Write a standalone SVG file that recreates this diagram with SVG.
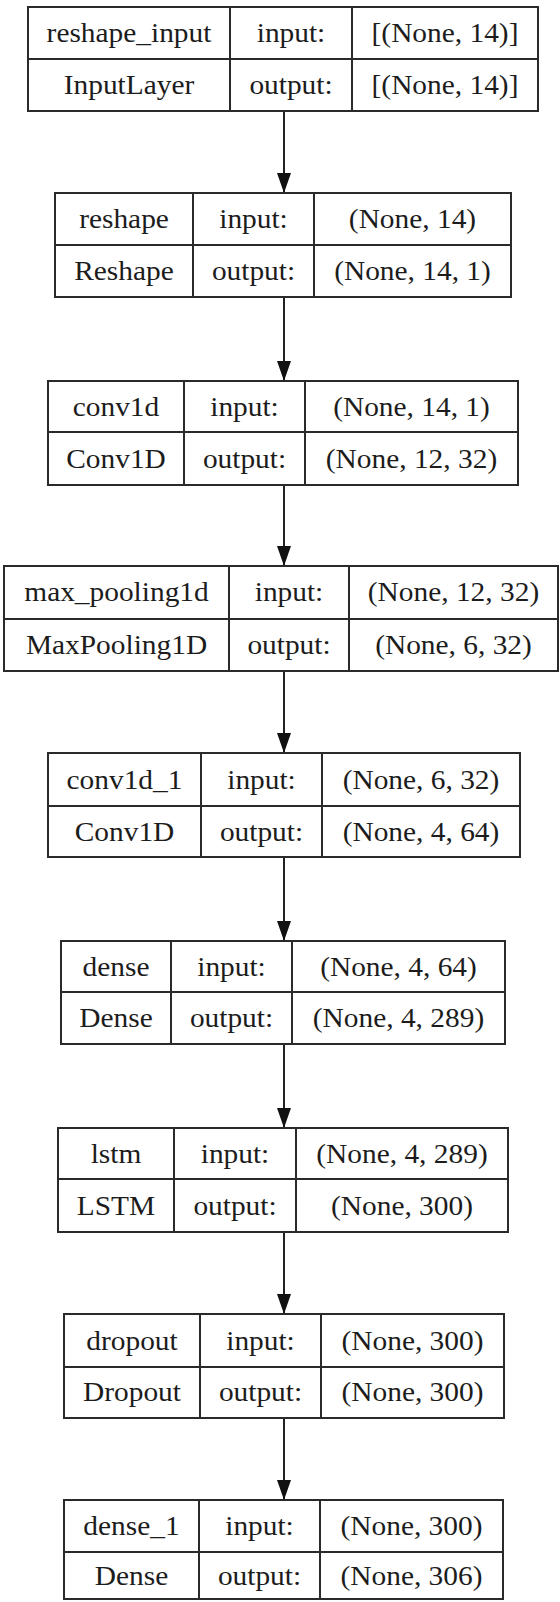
<svg xmlns="http://www.w3.org/2000/svg" width="560" height="1602" viewBox="0 0 560 1602">
<style>
.box{fill:#fff;stroke:#2a2a2a;stroke-width:2}
.sep{stroke:#2a2a2a;stroke-width:2}
.t{font-family:"Liberation Serif","Times New Roman",serif;font-size:28px;fill:#1c1c1c;text-anchor:middle}
.edge{stroke:#222;stroke-width:2;fill:none}
</style>
<defs>
<marker id="ah" markerUnits="userSpaceOnUse" markerWidth="20" markerHeight="14" refX="20" refY="7" orient="auto">
<path d="M0,0 L20,7 L0,14 z" fill="#111"/>
</marker>
</defs>
<rect width="560" height="1602" fill="#fff"/>
<g id="connectors">
<line class="edge" x1="284" y1="111" x2="284" y2="193" marker-end="url(#ah)"/>
<line class="edge" x1="284" y1="297" x2="284" y2="381" marker-end="url(#ah)"/>
<line class="edge" x1="284" y1="485" x2="284" y2="566" marker-end="url(#ah)"/>
<line class="edge" x1="284" y1="671" x2="284" y2="753" marker-end="url(#ah)"/>
<line class="edge" x1="284" y1="857" x2="284" y2="941" marker-end="url(#ah)"/>
<line class="edge" x1="284" y1="1044" x2="284" y2="1128" marker-end="url(#ah)"/>
<line class="edge" x1="284" y1="1232" x2="284" y2="1314" marker-end="url(#ah)"/>
<line class="edge" x1="284" y1="1418" x2="284" y2="1500" marker-end="url(#ah)"/>
</g>
<g id="n1">
<rect class="box" x="28" y="7" width="510" height="104"/>
<line class="sep" x1="28" y1="59" x2="538" y2="59"/>
<line class="sep" x1="230" y1="7" x2="230" y2="111"/>
<line class="sep" x1="352" y1="7" x2="352" y2="111"/>
<text class="t" transform="translate(129,42) scale(1.05,1)">reshape_input</text>
<text class="t" transform="translate(129,94) scale(1.05,1)">InputLayer</text>
<text class="t" transform="translate(291,42) scale(1.05,1)">input:</text>
<text class="t" transform="translate(291,94) scale(1.05,1)">output:</text>
<text class="t" transform="translate(445,42) scale(1.05,1)">[(None, 14)]</text>
<text class="t" transform="translate(445,94) scale(1.05,1)">[(None, 14)]</text>
</g>
<g id="n2">
<rect class="box" x="55" y="193" width="456" height="104"/>
<line class="sep" x1="55" y1="245" x2="511" y2="245"/>
<line class="sep" x1="193" y1="193" x2="193" y2="297"/>
<line class="sep" x1="314" y1="193" x2="314" y2="297"/>
<text class="t" transform="translate(124,228) scale(1.05,1)">reshape</text>
<text class="t" transform="translate(124,280) scale(1.05,1)">Reshape</text>
<text class="t" transform="translate(253.5,228) scale(1.05,1)">input:</text>
<text class="t" transform="translate(253.5,280) scale(1.05,1)">output:</text>
<text class="t" transform="translate(412.5,228) scale(1.05,1)">(None, 14)</text>
<text class="t" transform="translate(412.5,280) scale(1.05,1)">(None, 14, 1)</text>
</g>
<g id="n3">
<rect class="box" x="48" y="381" width="470" height="104"/>
<line class="sep" x1="48" y1="432" x2="518" y2="432"/>
<line class="sep" x1="184" y1="381" x2="184" y2="485"/>
<line class="sep" x1="305" y1="381" x2="305" y2="485"/>
<text class="t" transform="translate(116,416) scale(1.05,1)">conv1d</text>
<text class="t" transform="translate(116,468) scale(1.05,1)">Conv1D</text>
<text class="t" transform="translate(244.5,416) scale(1.05,1)">input:</text>
<text class="t" transform="translate(244.5,468) scale(1.05,1)">output:</text>
<text class="t" transform="translate(411.5,416) scale(1.05,1)">(None, 14, 1)</text>
<text class="t" transform="translate(411.5,468) scale(1.05,1)">(None, 12, 32)</text>
</g>
<g id="n4">
<rect class="box" x="4" y="566" width="554" height="105"/>
<line class="sep" x1="4" y1="619" x2="558" y2="619"/>
<line class="sep" x1="229" y1="566" x2="229" y2="671"/>
<line class="sep" x1="349" y1="566" x2="349" y2="671"/>
<text class="t" transform="translate(116.5,601) scale(1.05,1)">max_pooling1d</text>
<text class="t" transform="translate(116.5,654) scale(1.05,1)">MaxPooling1D</text>
<text class="t" transform="translate(289,601) scale(1.05,1)">input:</text>
<text class="t" transform="translate(289,654) scale(1.05,1)">output:</text>
<text class="t" transform="translate(453.5,601) scale(1.05,1)">(None, 12, 32)</text>
<text class="t" transform="translate(453.5,654) scale(1.05,1)">(None, 6, 32)</text>
</g>
<g id="n5">
<rect class="box" x="48" y="753" width="472" height="104"/>
<line class="sep" x1="48" y1="806" x2="520" y2="806"/>
<line class="sep" x1="201" y1="753" x2="201" y2="857"/>
<line class="sep" x1="322" y1="753" x2="322" y2="857"/>
<text class="t" transform="translate(124.5,789) scale(1.05,1)">conv1d_1</text>
<text class="t" transform="translate(124.5,841) scale(1.05,1)">Conv1D</text>
<text class="t" transform="translate(261.5,789) scale(1.05,1)">input:</text>
<text class="t" transform="translate(261.5,841) scale(1.05,1)">output:</text>
<text class="t" transform="translate(421,789) scale(1.05,1)">(None, 6, 32)</text>
<text class="t" transform="translate(421,841) scale(1.05,1)">(None, 4, 64)</text>
</g>
<g id="n6">
<rect class="box" x="61" y="941" width="444" height="103"/>
<line class="sep" x1="61" y1="992" x2="505" y2="992"/>
<line class="sep" x1="171" y1="941" x2="171" y2="1044"/>
<line class="sep" x1="292" y1="941" x2="292" y2="1044"/>
<text class="t" transform="translate(116,976) scale(1.05,1)">dense</text>
<text class="t" transform="translate(116,1027) scale(1.05,1)">Dense</text>
<text class="t" transform="translate(231.5,976) scale(1.05,1)">input:</text>
<text class="t" transform="translate(231.5,1027) scale(1.05,1)">output:</text>
<text class="t" transform="translate(398.5,976) scale(1.05,1)">(None, 4, 64)</text>
<text class="t" transform="translate(398.5,1027) scale(1.05,1)">(None, 4, 289)</text>
</g>
<g id="n7">
<rect class="box" x="58" y="1128" width="450" height="104"/>
<line class="sep" x1="58" y1="1179" x2="508" y2="1179"/>
<line class="sep" x1="174" y1="1128" x2="174" y2="1232"/>
<line class="sep" x1="296" y1="1128" x2="296" y2="1232"/>
<text class="t" transform="translate(116,1163) scale(1.05,1)">lstm</text>
<text class="t" transform="translate(116,1215) scale(1.05,1)">LSTM</text>
<text class="t" transform="translate(235,1163) scale(1.05,1)">input:</text>
<text class="t" transform="translate(235,1215) scale(1.05,1)">output:</text>
<text class="t" transform="translate(402,1163) scale(1.05,1)">(None, 4, 289)</text>
<text class="t" transform="translate(402,1215) scale(1.05,1)">(None, 300)</text>
</g>
<g id="n8">
<rect class="box" x="64" y="1314" width="440" height="104"/>
<line class="sep" x1="64" y1="1367" x2="504" y2="1367"/>
<line class="sep" x1="200" y1="1314" x2="200" y2="1418"/>
<line class="sep" x1="321" y1="1314" x2="321" y2="1418"/>
<text class="t" transform="translate(132,1350) scale(1.05,1)">dropout</text>
<text class="t" transform="translate(132,1401) scale(1.05,1)">Dropout</text>
<text class="t" transform="translate(260.5,1350) scale(1.05,1)">input:</text>
<text class="t" transform="translate(260.5,1401) scale(1.05,1)">output:</text>
<text class="t" transform="translate(412.5,1350) scale(1.05,1)">(None, 300)</text>
<text class="t" transform="translate(412.5,1401) scale(1.05,1)">(None, 300)</text>
</g>
<g id="n9">
<rect class="box" x="64" y="1500" width="439" height="99"/>
<line class="sep" x1="64" y1="1552" x2="503" y2="1552"/>
<line class="sep" x1="199" y1="1500" x2="199" y2="1599"/>
<line class="sep" x1="320" y1="1500" x2="320" y2="1599"/>
<text class="t" transform="translate(131.5,1535) scale(1.05,1)">dense_1</text>
<text class="t" transform="translate(131.5,1585) scale(1.05,1)">Dense</text>
<text class="t" transform="translate(259.5,1535) scale(1.05,1)">input:</text>
<text class="t" transform="translate(259.5,1585) scale(1.05,1)">output:</text>
<text class="t" transform="translate(411.5,1535) scale(1.05,1)">(None, 300)</text>
<text class="t" transform="translate(411.5,1585) scale(1.05,1)">(None, 306)</text>
</g>
</svg>
